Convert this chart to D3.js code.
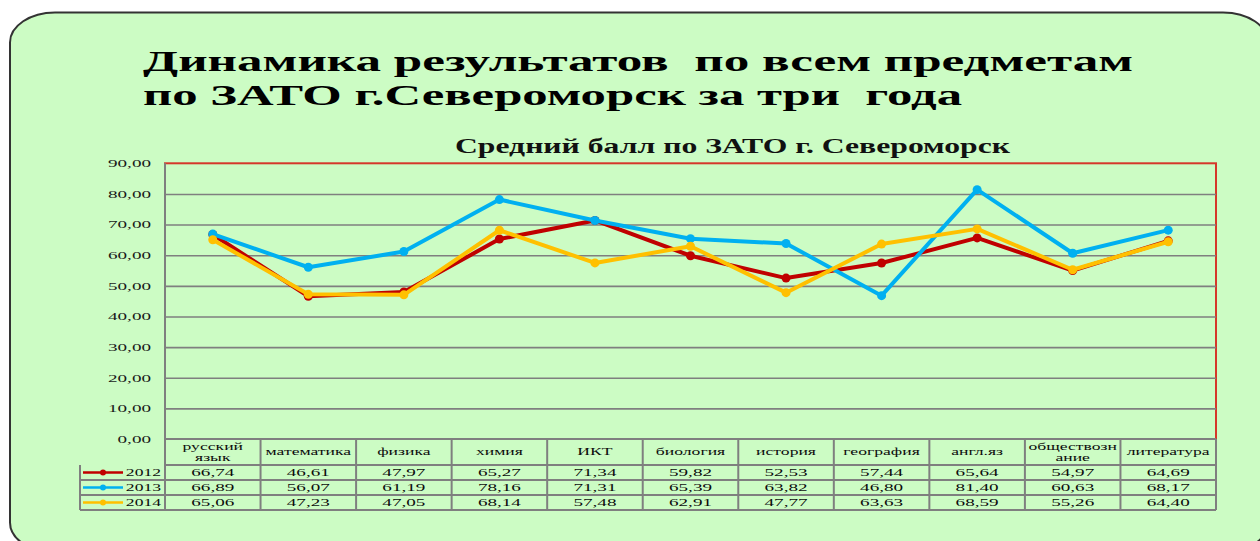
<!DOCTYPE html>
<html>
<head>
<meta charset="utf-8">
<script src="https://cdn.jsdelivr.net/npm/d3@7"></script>
<style>
  html, body { margin: 0; padding: 0; background: #fff; }
  svg { display: block; font-family: "Liberation Serif", "Times New Roman", serif; }
</style>
</head>
<body>
<svg id="chart" width="1260" height="541"></svg>
<script>
'use strict';

var subjects = ['русский язык', 'математика', 'физика', 'химия', 'ИКТ', 'биология',
  'история', 'география', 'англ.яз', 'обществознание', 'литература'];
var subjectLines = [['русский', 'язык'], ['математика'], ['физика'], ['химия'], ['ИКТ'],
  ['биология'], ['история'], ['география'], ['англ.яз'], ['обществозн', 'ание'], ['литература']];
var years = ['2012', '2013', '2014'];
var values2012 = [66.74, 46.61, 47.97, 65.27, 71.34, 59.82, 52.53, 57.44, 65.64, 54.97, 64.69];
var values2013 = [66.89, 56.07, 61.19, 78.16, 71.31, 65.39, 63.82, 46.80, 81.40, 60.63, 68.17];
var values2014 = [65.06, 47.23, 47.05, 68.14, 57.48, 62.91, 47.77, 63.63, 68.59, 55.26, 64.40];
var yearColors = ['#c00000', '#00b0f0', '#ffc000'];
var yTicks = [0, 10, 20, 30, 40, 50, 60, 70, 80, 90];

var titleLines = ['Динамика результатов  по всем предметам', 'по ЗАТО г.Североморск за три  года'];
var chartTitle = 'Средний балл по ЗАТО г. Североморск';

(function() {
  var series = years.map(function(year, i) {
    var vals = [values2012, values2013, values2014][i];
    return {
      year: year,
      color: yearColors[i],
      points: subjects.map(function(s, j) { return { s: s, v: vals[j] }; })
    };
  });

  var svg = d3.select('#chart');
  var SX = 1.74; // the source picture is stretched sideways
  var SX_HEAD = 1.68;
  var GRID = '#7f7f7f';
  var fmt = function(v) { return d3.format('.2f')(v).replace('.', ','); };

  // stretched small text helper
  function sText(g, x, y, str, size, anchor, sx) {
    return g.append('text')
      .attr('transform', 'translate(' + x + ',' + y + ') scale(' + (sx || SX) + ',1)')
      .attr('text-anchor', anchor || 'middle')
      .attr('font-size', size)
      .attr('fill', '#0d0d0d')
      .text(str);
  }

  // slide background
  svg.append('rect')
    .attr('x', 10).attr('y', 12.5)
    .attr('width', 1258).attr('height', 540)
    .attr('rx', 45).attr('ry', 30)
    .attr('fill', '#ccfcc4')
    .attr('stroke', '#333')
    .attr('stroke-width', 2);

  // slide title
  titleLines.forEach(function(line, i) {
    svg.append('text')
      .attr('x', 143)
      .attr('y', 71 + i * 34)
      .attr('font-size', 30)
      .attr('font-weight', 'bold')
      .attr('fill', '#000')
      .style('white-space', 'pre')
      .attr('textLength', i === 0 ? 990 : 819)
      .attr('lengthAdjust', 'spacingAndGlyphs')
      .text(line);
  });

  svg.append('text')
    .attr('x', 455)
    .attr('y', 153)
    .attr('font-size', 21)
    .attr('font-weight', 'bold')
    .attr('fill', '#111')
    .attr('textLength', 555)
    .attr('lengthAdjust', 'spacingAndGlyphs')
    .text(chartTitle);

  // scales
  var pLeft = 165, pRight = 1216, pTop = 163.3, pBottom = 439;
  var xScale = d3.scaleBand().domain(subjects).range([pLeft, pRight]);
  var bw = xScale.bandwidth();
  var yScale = d3.scaleLinear().domain([0, 90]).range([pBottom, pTop]);

  // plot area border (red)
  svg.append('rect')
    .attr('x', pLeft).attr('y', pTop)
    .attr('width', pRight - pLeft).attr('height', pBottom - pTop)
    .attr('fill', 'none')
    .attr('stroke', '#d5372a')
    .attr('stroke-width', 2);

  // gridlines
  var grid = svg.append('g')
    .attr('transform', 'translate(' + pLeft + ',0)')
    .call(d3.axisLeft(yScale)
      .tickValues(yTicks.filter(function(t) { return t > 0 && t < 90; }))
      .tickSize(-(pRight - pLeft))
      .tickFormat(''));
  grid.select('.domain').remove();
  grid.selectAll('.tick line').attr('stroke', GRID).attr('stroke-width', 1.6);

  // y axis labels
  var yAxis = svg.append('g')
    .attr('transform', 'translate(' + pLeft + ',0)')
    .call(d3.axisLeft(yScale).tickValues(yTicks).tickSize(0).tickPadding(14).tickFormat(fmt));
  yAxis.select('.domain').remove();
  yAxis.selectAll('.tick text')
    .attr('font-family', '"Liberation Serif", serif')
    .attr('font-size', 11)
    .attr('fill', '#1a1a1a')
    .attr('dy', '0.3em')
    .attr('x', -14 / SX)
    .attr('transform', 'scale(' + SX + ',1)');

  // data table
  var rowTop = [pBottom, 465, 480, 495, 510];
  var tableLeft = 80;
  var table = svg.append('g');

  // header cells
  subjectLines.forEach(function(lines, i) {
    var cx = xScale(subjects[i]) + bw / 2;
    if (lines.length === 1) {
      sText(table, cx, 455, lines[0], 10.5, 'middle', SX_HEAD);
    } else {
      sText(table, cx, 449.5, lines[0], 10.5, 'middle', SX_HEAD);
      sText(table, cx, 461, lines[1], 10.5, 'middle', SX_HEAD);
    }
  });

  // values + legend
  series.forEach(function(sr, r) {
    var yb = rowTop[r + 2] - 4;
    var cy = (rowTop[r + 1] + rowTop[r + 2]) / 2;
    table.append('line')
      .attr('x1', 83).attr('x2', 123)
      .attr('y1', cy).attr('y2', cy)
      .attr('stroke', sr.color).attr('stroke-width', 2.5);
    table.append('circle')
      .attr('cx', 103).attr('cy', cy).attr('r', 3)
      .attr('fill', sr.color);
    sText(table, 161, yb, sr.year, 11, 'end', 1.6);
    sr.points.forEach(function(p) {
      sText(table, xScale(p.s) + bw / 2, yb, fmt(p.v), 11);
    });
  });

  // table grid lines
  var tl = table.append('g')
    .attr('stroke', GRID)
    .attr('stroke-width', 2);
  rowTop.forEach(function(yy, i) {
    tl.append('line')
      .attr('x1', i < 2 ? pLeft : tableLeft).attr('x2', pRight)
      .attr('y1', yy).attr('y2', yy);
  });
  tl.append('line')
    .attr('x1', tableLeft).attr('x2', tableLeft)
    .attr('y1', rowTop[1]).attr('y2', rowTop[4]);
  subjects.concat([null]).forEach(function(s) {
    var xx = s === null ? pRight : xScale(s);
    tl.append('line')
      .attr('x1', xx).attr('x2', xx)
      .attr('y1', s === subjects[0] ? pTop : pBottom)
      .attr('y2', rowTop[4]);
  });

  // series lines
  var line = d3.line()
    .x(function(d) { return xScale(d.s) + bw / 2; })
    .y(function(d) { return yScale(d.v); });

  var sg = svg.selectAll('g.series')
    .data(series)
    .enter()
    .append('g')
    .attr('class', 'series');

  sg.append('path')
    .attr('d', function(d) { return line(d.points); })
    .attr('fill', 'none')
    .attr('stroke', function(d) { return d.color; })
    .attr('stroke-width', 4)
    .attr('stroke-linejoin', 'round');

  sg.selectAll('circle')
    .data(function(d) { return d.points.map(function(p) { return { p: p, color: d.color }; }); })
    .enter()
    .append('circle')
    .attr('cx', function(d) { return xScale(d.p.s) + bw / 2; })
    .attr('cy', function(d) { return yScale(d.p.v); })
    .attr('r', 4.5)
    .attr('fill', function(d) { return d.color; });
})();
</script>
</body>
</html>
